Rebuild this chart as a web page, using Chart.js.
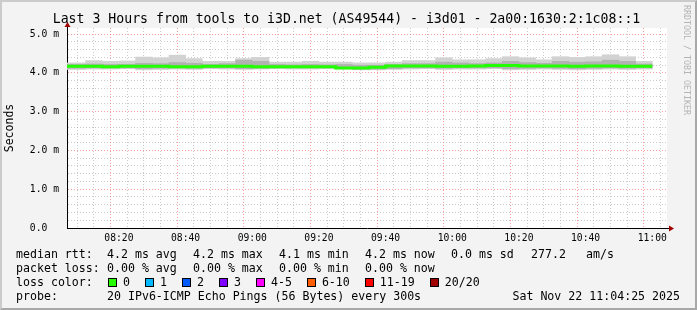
<!DOCTYPE html>
<html><head><meta charset="utf-8">
<script src="https://cdn.jsdelivr.net/npm/chart.js@4.4.0/dist/chart.umd.min.js"></script>
<style>
html,body{margin:0;padding:0;background:#f3f3f3;}
#wrap{position:relative;width:697px;height:310px;overflow:hidden;background:#f3f3f3;}
#wrap canvas{position:absolute;left:0;top:0;}
.t{position:absolute;font-family:"DejaVu Sans Mono",monospace;color:#000;white-space:pre;}
.lg{font-size:11.6px;line-height:14px;}
#frame{position:absolute;left:0;top:0;width:697px;height:310px;box-sizing:border-box;border-style:solid;border-width:2px;border-color:#cbcbcb #a8a8a8 #a8a8a8 #cbcbcb;pointer-events:none;}
.box{display:inline-block;width:7px;height:7px;border:1px solid #000;vertical-align:-1px;margin-right:6px;}
.item{margin-right:15px;}
#wm{position:absolute;left:682px;top:5px;writing-mode:vertical-rl;font-family:"DejaVu Sans Mono",monospace;font-size:8.3px;color:#b4b4b4;white-space:pre;}
</style></head>
<body>
<div id="wrap">
<canvas id="c" width="697" height="310"></canvas>
<div class="t" id="title" style="left:-2px;width:697px;top:11px;text-align:center;font-size:13.2px;line-height:16px;">Last 3 Hours from tools to i3D.net (AS49544) - i3d01 - 2a00:1630:2:1c08::1</div>
<div id="wm">RRDTOOL / TOBI OETIKER</div>
<div id="legend"></div>
<div id="frame"></div>
</div>
<script>
// ---- data (ms) ----
const binStarts = ['08:00','08:05','08:10','08:15','08:20','08:25','08:30','08:35','08:40','08:45','08:50','08:55',
  '09:00','09:05','09:10','09:15','09:20','09:25','09:30','09:35','09:40','09:45','09:50','09:55',
  '10:00','10:05','10:10','10:15','10:20','10:25','10:30','10:35','10:40','10:45','10:50','10:55'];
const smokeMax = [4.26,4.26,4.32,4.30,4.31,4.41,4.39,4.46,4.37,4.30,4.30,4.37,4.40,4.28,4.28,4.30,4.28,4.28,
  4.26,4.26,4.28,4.32,4.32,4.39,4.34,4.34,4.37,4.42,4.39,4.34,4.42,4.40,4.42,4.47,4.42,4.30];
const smokeQ3  = [4.22,4.22,4.23,4.22,4.22,4.25,4.24,4.27,4.25,4.22,4.24,4.33,4.30,4.22,4.21,4.22,4.21,4.22,
  4.20,4.20,4.22,4.24,4.24,4.28,4.26,4.24,4.26,4.30,4.27,4.25,4.30,4.28,4.29,4.33,4.30,4.23];
const smokeQ1  = [4.12,4.12,4.13,4.13,4.13,4.11,4.12,4.13,4.12,4.13,4.13,4.11,4.12,4.13,4.13,4.13,4.13,4.12,
  4.10,4.10,4.11,4.13,4.13,4.12,4.13,4.13,4.13,4.11,4.12,4.13,4.12,4.11,4.12,4.13,4.12,4.13];
const smokeMin = [4.09,4.09,4.10,4.10,4.11,4.08,4.09,4.10,4.09,4.11,4.10,4.09,4.10,4.11,4.10,4.10,4.11,4.10,
  4.08,4.08,4.09,4.10,4.11,4.09,4.10,4.10,4.11,4.08,4.09,4.10,4.09,4.08,4.09,4.10,4.09,4.10];
const medianRtt = [4.17,4.17,4.17,4.17,4.16,4.17,4.17,4.17,4.16,4.16,4.17,4.17,4.17,4.16,4.16,4.16,4.16,4.16,
  4.13,4.13,4.15,4.18,4.18,4.18,4.17,4.17,4.18,4.19,4.19,4.18,4.18,4.18,4.17,4.18,4.18,4.17];
const binMinutes = 5;
const endTime = '11:04:25';
const spanMinutes = 180;
const xTickLabels = ['08:20','08:40','09:00','09:20','09:40','10:00','10:20','10:40','11:00'];
const yTickValues = [0,1,2,3,4,5];
const yTickLabels = ['0.0  ','1.0 m','2.0 m','3.0 m','4.0 m','5.0 m'];
const yMax = 5.16;

const rttLabels = ['4.2 ms avg','4.2 ms max','4.1 ms min','4.2 ms now','0.0 ms sd','277.2','am/s'];
const lossLabelsStats = ['0.00 % avg','0.00 % max','0.00 % min','0.00 % now'];
const lossColorLabels = ['0','1','2','3','4-5','6-10','11-19','20/20'];
const lossColors = ['#26ff00','#00b8ff','#0059ff','#7e00ff','#ff00ff','#ff5e00','#ff0000','#a10000'];
const probeText = '20 IPv6-ICMP Echo Pings (56 Bytes) every 300s';
const dateText = 'Sat Nov 22 11:04:25 2025';

// ---- helpers ----
function toMin(s){const p=s.split(':').map(Number);return p[0]*60+p[1]+(p[2]||0)/60;}
const tEnd = toMin(endTime), tStart = tEnd - spanMinutes;
const starts = binStarts.map(toMin);
const centers = starts.map(s=>s+binMinutes/2);
const majorX = xTickLabels.map(toMin);
const gridX = []; for(let m=Math.ceil(tStart/binMinutes)*binMinutes; m<=tEnd; m+=binMinutes) gridX.push(m);
const gridY = []; for(let i=0;i<=25;i++) gridY.push(Math.round(i*2)/10);

const medianPts = starts.map((s,i)=>({x:s,y:medianRtt[i]}));
medianPts.push({x:starts[starts.length-1]+binMinutes,y:medianRtt[medianRtt.length-1]});

const bgPlugin = {
  id:'bg',
  beforeDraw(c){const {ctx,chartArea:a}=c;ctx.save();ctx.fillStyle='#ffffff';ctx.fillRect(a.left,a.top,a.right-a.left,a.bottom-a.top);ctx.restore();},
  afterDraw(c){const {ctx,chartArea:a}=c;ctx.save();
    ctx.strokeStyle='#000';ctx.lineWidth=1;ctx.beginPath();
    ctx.moveTo(a.right,Math.round(a.bottom)+0.5);ctx.lineTo(a.right+3,Math.round(a.bottom)+0.5);
    ctx.moveTo(Math.round(a.left)+0.5,a.top);ctx.lineTo(Math.round(a.left)+0.5,a.top-2);ctx.stroke();
    ctx.fillStyle='#a00000';
    const by=Math.round(a.bottom)+0.5, lx=Math.round(a.left)+0.5;
    ctx.beginPath();ctx.moveTo(a.right+7,by);ctx.lineTo(a.right+2,by-3);ctx.lineTo(a.right+2,by+3);ctx.closePath();ctx.fill();
    ctx.beginPath();ctx.moveTo(lx,a.top-6);ctx.lineTo(lx-3,a.top-1);ctx.lineTo(lx+3,a.top-1);ctx.closePath();ctx.fill();
    ctx.restore();}
};

const mono = 'DejaVu Sans Mono';
const minorCol = 'rgba(140,140,140,0.45)';
const majorCol = 'rgba(255,40,40,0.45)';

new Chart(document.getElementById('c'),{
  type:'bar',
  data:{datasets:[
    {type:'line',label:'median',data:medianPts,stepped:'after',borderColor:'#22ff00',borderWidth:3,pointRadius:0,fill:false,order:0},
    {label:'q',data:centers.map((x,i)=>({x,y:[smokeQ1[i],smokeQ3[i]]})),backgroundColor:'#b2b2b2',borderWidth:0,barPercentage:1,categoryPercentage:1,grouped:false,order:1},
    {label:'r',data:centers.map((x,i)=>({x,y:[smokeMin[i],smokeMax[i]]})),backgroundColor:'#d2d2d2',borderWidth:0,barPercentage:1,categoryPercentage:1,grouped:false,order:2}
  ]},
  options:{
    responsive:false,animation:false,devicePixelRatio:1,events:[],
    layout:{padding:{top:28,left:0,right:30,bottom:0}},
    plugins:{legend:{display:false},tooltip:{enabled:false},title:{display:false}},
    scales:{
      x:{type:'linear',min:tStart,max:tEnd,offset:false,
        afterBuildTicks:s=>{s.ticks=gridX.map(v=>({value:v}));},
        afterFit:s=>{s.height=82;},
        grid:{color:ctx=>(ctx.tick&&majorX.includes(ctx.tick.value))?majorCol:minorCol,lineWidth:1,drawTicks:false},
        border:{display:true,color:'#000',width:1,dash:[1,2]},
        ticks:{autoSkip:false,maxRotation:0,padding:5,color:'#000',font:{family:mono,size:9.7},
          callback:v=>{const i=majorX.indexOf(v);return i>=0?xTickLabels[i]:'';}}
      },
      y:{type:'linear',min:0,max:yMax,
        afterBuildTicks:s=>{s.ticks=gridY.map(v=>({value:v}));},
        afterFit:s=>{s.width=67;},
        grid:{color:ctx=>(ctx.tick&&yTickValues.includes(ctx.tick.value))?majorCol:minorCol,lineWidth:1,drawTicks:false},
        border:{display:true,color:'#000',width:1,dash:[1,2]},
        ticks:{autoSkip:false,padding:8,color:'#000',font:{family:mono,size:9.7},
          callback:v=>{const i=yTickValues.indexOf(v);return i>=0?yTickLabels[i]:'';}},
        title:{display:true,text:'Seconds',color:'#000',font:{family:mono,size:11.5},padding:{top:3,bottom:0}}
      }
    }
  },
  plugins:[bgPlugin]
});

// ---- text legend ----
const L = document.getElementById('legend');
function put(txt,x,yc,extra){const d=document.createElement('div');d.className='t lg';d.textContent=txt;d.style.left=x+'px';d.style.top=(yc-7)+'px';if(extra)Object.assign(d.style,extra);L.appendChild(d);return d;}
const rttX=[107,193,279,365,451,531,586];
put('median rtt:',16,254); rttLabels.forEach((s,i)=>put(s,rttX[i],254));
put('packet loss:',16,268); lossLabelsStats.forEach((s,i)=>put(s,rttX[i],268));
put('loss color:',16,282);
const row=document.createElement('div');row.className='t lg';row.style.left='108px';row.style.top='275px';
lossColorLabels.forEach((s,i)=>{const it=document.createElement('span');it.className='item';
  const b=document.createElement('span');b.className='box';b.style.background=lossColors[i];it.appendChild(b);
  it.appendChild(document.createTextNode(s));row.appendChild(it);});
L.appendChild(row);
put('probe:',16,296); put(probeText,107,296);
put(dateText,0,296,{left:'auto',right:(697-680)+'px'});
</script>
</body></html>
